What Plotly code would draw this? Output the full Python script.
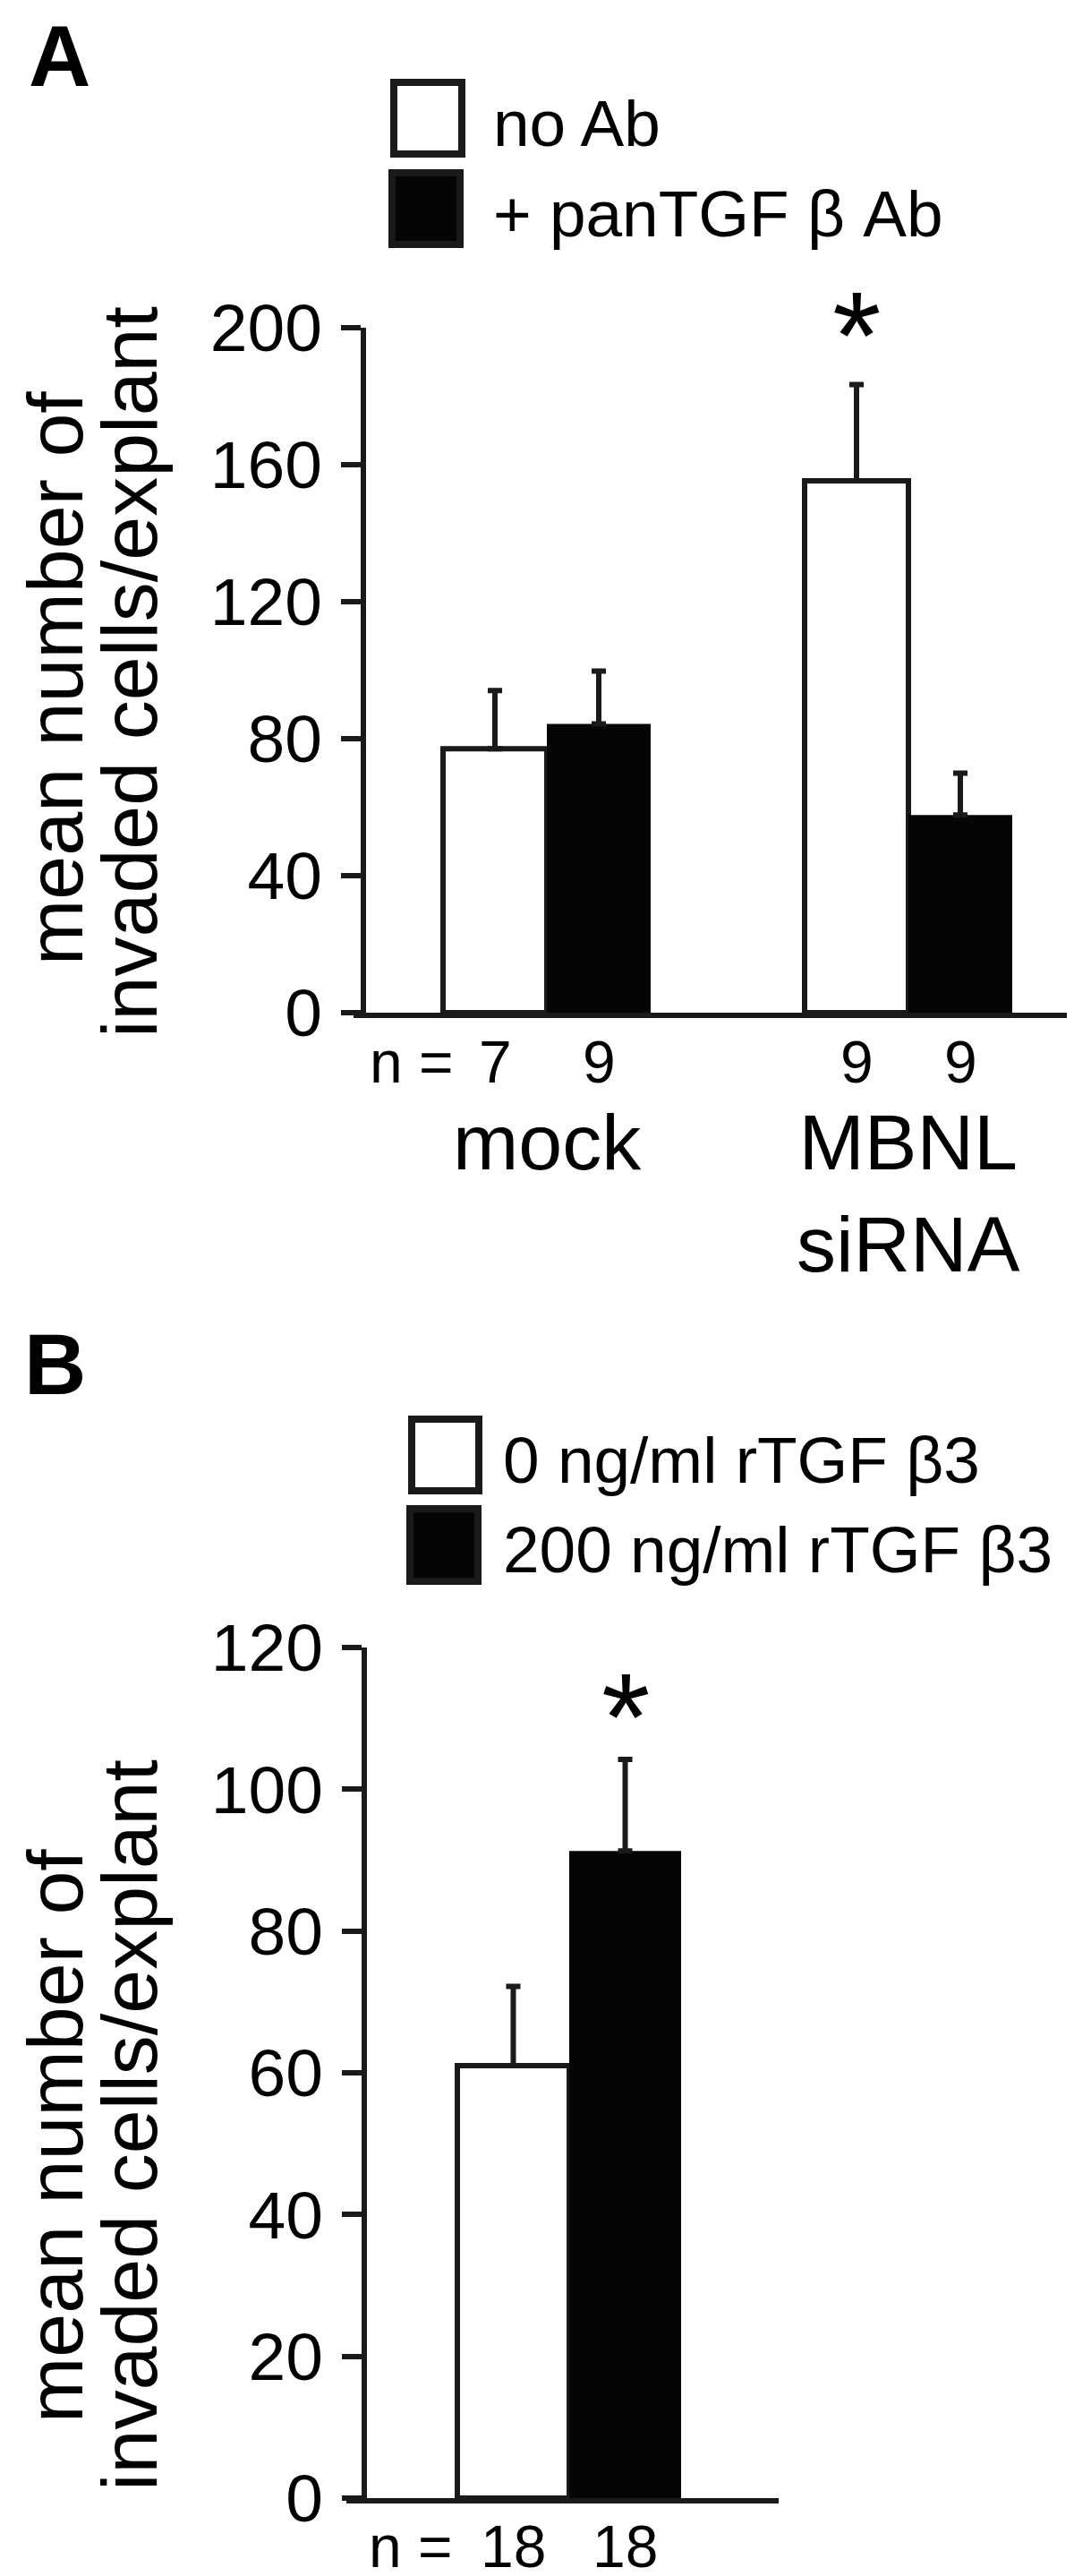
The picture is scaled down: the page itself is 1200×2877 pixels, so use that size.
import plotly.graph_objects as go

W, H = 1200, 2877
FONT = "Liberation Sans, Arial, Helvetica, sans-serif"
INK = "#1a1a1a"
BAR_BLACK = "#050505"

# ---------------- data ----------------
# Panel A
a_groups = ["mock", "MBNL<br>siRNA"]
a_noab_mean = [77.0, 155.2]
a_noab_sem = [17.0, 28.1]
a_pan_mean = [84.3, 57.7]
a_pan_sem = [15.4, 12.2]
a_noab_n = [7, 9]
a_pan_n = [9, 9]
a_series = ["no Ab", "+ panTGF β Ab"]
a_ticks = [0, 40, 80, 120, 160, 200]

# Panel B
b_series = ["0 ng/ml rTGF β3", "200 ng/ml rTGF β3"]
b_mean = [61.0, 91.3]
b_sem = [11.2, 12.9]
b_n = [18, 18]
b_ticks = [0, 20, 40, 60, 80, 100, 120]

y_title = ["mean number of", "invaded cells/explant"]


def px(x):
    return x / W


def py(y):
    return 1 - y / H


PXU = 404.0  # pixels per x unit
wa = 116 / PXU
wb = 125 / PXU
a_pos = list(range(len(a_groups)))

fig = go.Figure()

err_style = dict(type="data", symmetric=False, color=INK, thickness=6, width=8, visible=True)

# Panel A bars
fig.add_trace(go.Bar(
    x=a_pos, y=a_noab_mean, width=wa, offset=-wa,
    marker=dict(color="white", line=dict(color=INK, width=6)),
    error_y=dict(array=a_noab_sem, arrayminus=[0] * len(a_pos), **err_style),
    xaxis="x", yaxis="y", name=a_series[0], showlegend=False,
))
fig.add_trace(go.Bar(
    x=a_pos, y=a_pan_mean, width=wa, offset=0,
    marker=dict(color=BAR_BLACK, line=dict(color=BAR_BLACK, width=0)),
    error_y=dict(array=a_pan_sem, arrayminus=[0] * len(a_pos), **err_style),
    xaxis="x", yaxis="y", name=a_series[1], showlegend=False,
))

# Panel B bars
fig.add_trace(go.Bar(
    x=[0], y=[b_mean[0]], width=wb, offset=-wb,
    marker=dict(color="white", line=dict(color=INK, width=6)),
    error_y=dict(array=[b_sem[0]], arrayminus=[0], **err_style),
    xaxis="x2", yaxis="y2", name=b_series[0], showlegend=False,
))
fig.add_trace(go.Bar(
    x=[0], y=[b_mean[1]], width=wb, offset=0,
    marker=dict(color=BAR_BLACK, line=dict(color=BAR_BLACK, width=0)),
    error_y=dict(array=[b_sem[1]], arrayminus=[0], **err_style),
    xaxis="x2", yaxis="y2", name=b_series[1], showlegend=False,
))

axis_common = dict(showgrid=False, zeroline=False, showline=True, linewidth=6, linecolor=INK)

ann = []
shapes = []

# panel letters
ann.append(dict(text="A", x=px(22), y=py(55), xref="paper", yref="paper", xanchor="left", yanchor="middle",
                showarrow=False, font=dict(size=96, family=FONT, color="black", weight="bold")))
ann.append(dict(text="B", x=px(17), y=py(1515), xref="paper", yref="paper", xanchor="left", yanchor="middle",
                showarrow=False, font=dict(size=96, family=FONT, color="black", weight="bold")))

# legends (drawn boxes + text)
def legend_box(x0, y0, x1, y1, fill):
    shapes.append(dict(type="rect", xref="paper", yref="paper", x0=px(x0), x1=px(x1), y0=py(y1), y1=py(y0),
                       line=dict(color=INK, width=8), fillcolor=fill, layer="above"))

legend_box(432, 84, 508, 164, "white")
legend_box(430, 185, 506, 265, BAR_BLACK)
legend_box(452, 1577, 527, 1657, "white")
legend_box(450, 1677, 526, 1758, BAR_BLACK)

for txt, yy in [(a_series[0], 129), (a_series[1], 230)]:
    ann.append(dict(text=txt, x=px(541), y=py(yy), xref="paper", yref="paper", xanchor="left", yanchor="middle",
                    showarrow=False, font=dict(size=73, family=FONT, color="black")))
for txt, yy in [(b_series[0], 1622), (b_series[1], 1722)]:
    ann.append(dict(text=txt, x=px(552), y=py(yy), xref="paper", yref="paper", xanchor="left", yanchor="middle",
                    showarrow=False, font=dict(size=73, family=FONT, color="black")))

# y titles (two lines, rotated)
for (x1, y1, x2, y2) in [(53, 750, 136, 743), (53, 2378, 136, 2366)]:
    ann.append(dict(text=y_title[0], x=px(x1), y=py(y1), xref="paper", yref="paper", textangle=-90,
                    xanchor="center", yanchor="middle", showarrow=False,
                    font=dict(size=88, family=FONT, color="black")))
    ann.append(dict(text=y_title[1], x=px(x2), y=py(y2), xref="paper", yref="paper", textangle=-90,
                    xanchor="center", yanchor="middle", showarrow=False,
                    font=dict(size=88, family=FONT, color="black")))

# group labels (panel A)
for i, g in enumerate(a_groups):
    ann.append(dict(text=g, x=a_pos[i], y=py(1216), xref="x", yref="paper", xanchor="center", yanchor="top",
                    showarrow=False, font=dict(size=88, family=FONT, color="black")))

# n labels
NY_A, NY_B = 1178, 2836
ann.append(dict(text="n =", x=px(403), y=py(NY_A), xref="paper", yref="paper", xanchor="left", yanchor="middle",
                showarrow=False, font=dict(size=66, family=FONT, color="black")))
for i in a_pos:
    ann.append(dict(text=str(a_noab_n[i]), x=a_pos[i] - wa / 2, y=py(NY_A), xref="x", yref="paper",
                    xanchor="center", yanchor="middle", showarrow=False,
                    font=dict(size=66, family=FONT, color="black")))
    ann.append(dict(text=str(a_pan_n[i]), x=a_pos[i] + wa / 2, y=py(NY_A), xref="x", yref="paper",
                    xanchor="center", yanchor="middle", showarrow=False,
                    font=dict(size=66, family=FONT, color="black")))
ann.append(dict(text="n =", x=px(402), y=py(NY_B), xref="paper", yref="paper", xanchor="left", yanchor="middle",
                showarrow=False, font=dict(size=66, family=FONT, color="black")))
for k, xo in enumerate([-wb / 2, wb / 2]):
    ann.append(dict(text=str(b_n[k]), x=xo, y=py(NY_B), xref="x2", yref="paper",
                    xanchor="center", yanchor="middle", showarrow=False,
                    font=dict(size=66, family=FONT, color="black")))

# significance stars
ann.append(dict(text="*", x=a_pos[1] - wa / 2, y=a_noab_mean[1] + a_noab_sem[1], xref="x", yref="y",
                xanchor="center", yanchor="middle", yshift=55, showarrow=False,
                font=dict(size=140, family=FONT, color="black")))
ann.append(dict(text="*", x=wb / 2, y=b_mean[1] + b_sem[1], xref="x2", yref="y2",
                xanchor="center", yanchor="middle", yshift=48, showarrow=False,
                font=dict(size=140, family=FONT, color="black")))

fig.update_layout(
    width=W, height=H,
    margin=dict(l=0, r=0, t=0, b=0, pad=0, autoexpand=False),
    paper_bgcolor="white", plot_bgcolor="white",
    showlegend=False,
    barmode="overlay",
    font=dict(family=FONT, color="black"),
    xaxis=dict(domain=[px(387), 1.0], range=[(387 - 603) / PXU, (1200 - 603) / PXU], anchor="y",
               showticklabels=False, ticks="", **axis_common),
    yaxis=dict(domain=[py(1123), py(357.6)], range=[0, 200], anchor="free", position=px(398),
               tickvals=a_ticks, ticks="outside", ticklen=22, tickwidth=6, tickcolor=INK,
               tickfont=dict(size=75, family=FONT, color="black"), ticklabelstandoff=6, **axis_common),
    xaxis2=dict(domain=[px(379), px(862)], range=[(379 - 628) / PXU, (862 - 628) / PXU], anchor="y2",
                showticklabels=False, ticks="", **axis_common),
    yaxis2=dict(domain=[py(2782), py(1832)], range=[0, 120], anchor="free", position=px(399),
                tickvals=b_ticks, ticks="outside", ticklen=22, tickwidth=6, tickcolor=INK,
                tickfont=dict(size=75, family=FONT, color="black"), ticklabelstandoff=6, **axis_common),
    annotations=ann,
    shapes=shapes,
)

fig.write_html("out.html")
